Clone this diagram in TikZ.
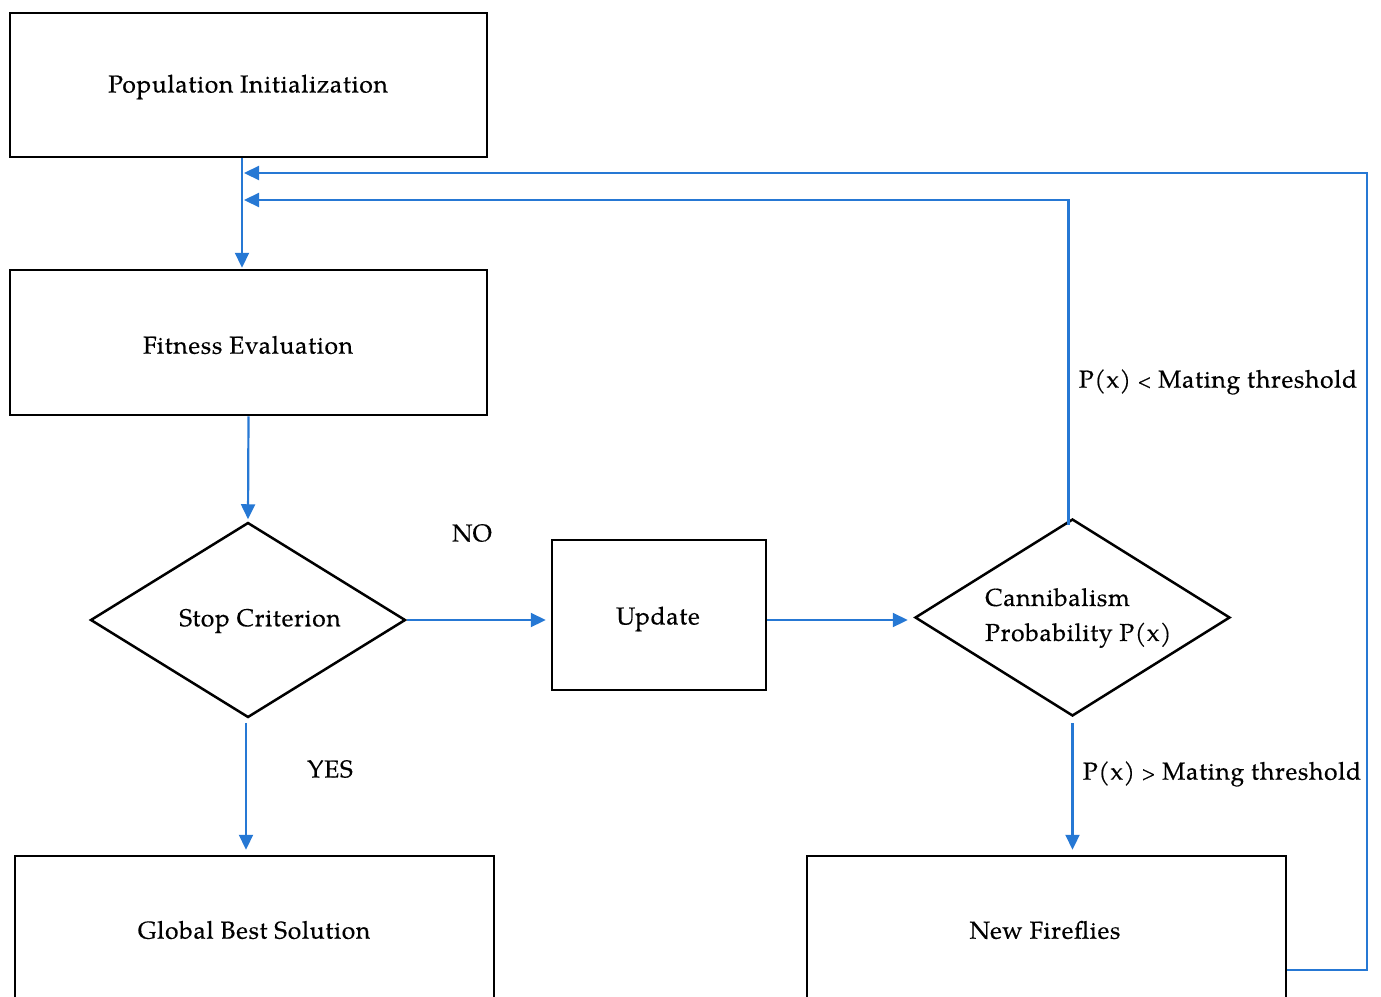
\documentclass[tikz,border=0pt]{standalone}
\usepackage{fontspec}
\setmainfont{TeX Gyre Pagella}[LetterSpace=3,FakeBold=0.4]
\usetikzlibrary{shapes.geometric,arrows.meta,calc}
\definecolor{flowblue}{RGB}{38,120,212}
\newcommand{\smallrel}[1]{\raisebox{0.5pt}{\scalebox{0.72}{#1}}}
\tikzset{
  boxnode/.style={draw=black,line width=2.5pt,rectangle,inner sep=0pt},
  decnode/.style={draw=black,line width=2.5pt,diamond,inner sep=0pt},
  lbl/.style={font=\fontsize{24.5}{35}\selectfont,inner sep=0pt},
  flow/.style={draw=flowblue,line width=2.2pt,-{Triangle[length=15pt,width=14pt]}},
}
\begin{document}
\begin{tikzpicture}[x=1pt,y=-1pt]
\useasboundingbox (0,0) rectangle (1381,996);
\clip (0,0) rectangle (1381,996);
% boxes
\node[boxnode,minimum width=477pt,minimum height=144pt] (pop) at (248.5,85) {};
\node[boxnode,minimum width=477pt,minimum height=145pt] (fit) at (248.5,342.5) {};
\node[decnode,minimum width=315pt,minimum height=195pt] (stop) at (248,620) {};
\node[boxnode,minimum width=214pt,minimum height=150pt] (upd) at (659,615) {};
\node[decnode,minimum width=315pt,minimum height=197pt] (can) at (1072.5,617.5) {};
\node[boxnode,minimum width=479pt,minimum height=228pt] (gb) at (254.5,970) {};
\node[boxnode,minimum width=479pt,minimum height=228pt] (nf) at (1046.5,970) {};
% texts
\node[lbl] (tpop) at (248,87) {Population Initialization};
\node[lbl] (tfit) at (248,345) {Fitness Evaluation};
\node[lbl] (tstop) at (260,621) {Stop Criterion};
\node[lbl] (tupd) at (658,619) {Update};
\node[lbl,align=left,anchor=west] (tcan) at (985,618) {Cannibalism\\Probability P(x)};
\node[lbl] (tgb) at (254,930) {Global Best Solution};
\node[lbl] (tnf) at (1045,930) {New Fireflies};
\node[lbl] (tno) at (472,533) {NO};
\node[lbl] (tyes) at (330,769) {YES};
\node[lbl] (tlt) at (1218,382) {P(x) \smallrel{<} Mating threshold};
\node[lbl] (tgt) at (1222,774) {P(x) \smallrel{>} Mating threshold};
% merge coordinates
\coordinate (m1) at (244,173);
\coordinate (m2) at (244,200);
\coordinate (rr) at (1367,970);
% connectors
\draw[flow,shorten >=1pt] ([xshift=-6.5pt]pop.south) -- ([xshift=-6.5pt]fit.north);
\draw[flow,shorten >=2pt] (fit.south) -- (stop.north);
\draw[flow,shorten >=5pt] (stop.east) -- (stop.east -| upd.west);
\draw[flow,shorten >=6pt] (upd.east |- stop.east) -- (stop.east -| can.west);
\draw[flow,shorten <=4pt,shorten >=5pt] ([xshift=-2pt]stop.south) -- ([xshift=-2pt]stop.south |- gb.north);
\draw[flow,shorten <=6pt,shorten >=5pt] (can.south) -- (can.south |- nf.north);
\draw[flow] ([xshift=-4pt,yshift=-7pt]can.north) |- (m2);
\draw[flow] (nf.east) -- (rr) |- (m1);
\end{tikzpicture}
\end{document}
